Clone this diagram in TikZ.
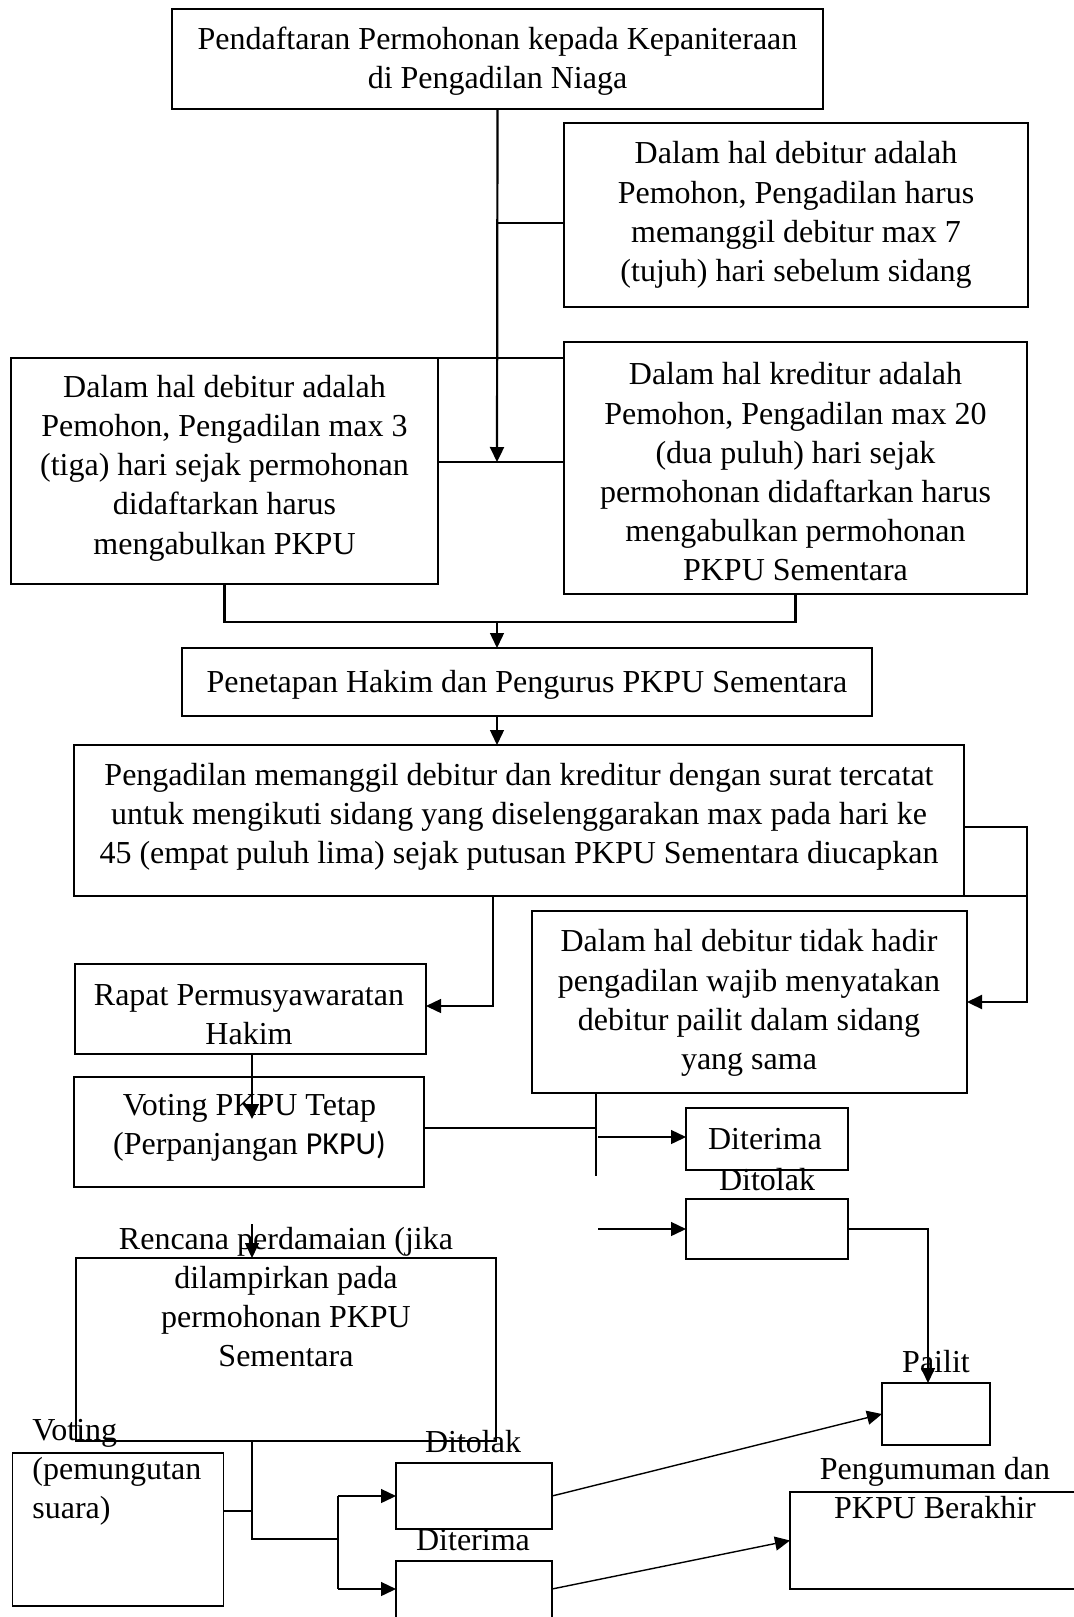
\documentclass[tikz,border=0pt]{standalone}
\usepackage{fontspec}
\setmainfont{Liberation Serif}
\newfontfamily\carl{Carlito}
\usetikzlibrary{arrows.meta,calc}
\begin{document}
\begin{tikzpicture}[x=0.5pt,y=-0.5pt,
  box/.style={draw,inner sep=0pt,outer sep=0pt,line width=0.6pt},
  tbox/.style={box,line width=1.1pt},
  txt/.style={inner sep=0pt,align=center,font=\fontsize{16}{19.6}\selectfont},
  conn/.style={line width=0.7pt},
  tconn/.style={line width=1.1pt},
  arr/.style={-{Triangle[length=7.5pt,width=7pt]}}]
\useasboundingbox (0,0) rectangle (1074,1617);
\clip (0,0) rectangle (1074,1617);
% boxes
\node[tbox,minimum width=325.5pt,minimum height=50pt] (top) at (497.5,59) {};
\node[box,minimum width=232pt,minimum height=92pt] (b2) at (796,215) {};
\node[tbox,minimum width=213.5pt,minimum height=113pt] (lb) at (224.5,471) {};
\node[tbox,minimum width=231.5pt,minimum height=126pt] (rb) at (795.5,468) {};
\node[box,minimum width=345pt,minimum height=34pt] (pen) at (527,682) {};
\node[tbox,minimum width=445pt,minimum height=75.5pt] (pg) at (519,820.5) {};
\node[box,minimum width=175.5pt,minimum height=45pt] (rap) at (250.5,1009) {};
\node[box,minimum width=217.5pt,minimum height=91pt] (dth) at (749.5,1002) {};
\node[tbox,minimum width=175pt,minimum height=55pt] (vot) at (249,1132) {};
\node[box,line width=0.8pt,minimum width=81pt,minimum height=31pt] (dt1) at (767,1139) {};
\node[box,line width=0.8pt,minimum width=81pt,minimum height=30pt] (dt2) at (767,1229) {};
\node[box,minimum width=210pt,minimum height=91.5pt] (ren) at (286,1349.5) {};
\node[box,minimum width=105.5pt,minimum height=76.5pt] (vs) at (118,1529.5) {};
\node[tbox,minimum width=78pt,minimum height=33pt] (dl) at (474,1496) {};
\node[box,minimum width=78pt,minimum height=40pt] (dr) at (474,1601) {};
\node[box,minimum width=54pt,minimum height=31pt] (pai) at (936,1414) {};
\node[tbox,minimum width=150pt,minimum height=48.5pt] (pgm) at (940,1540.5) {};
% texts
\node[txt] (ttop) at (497.5,61) {Pendaftaran Permohonan kepada Kepaniteraan\\di Pengadilan Niaga};
\node[txt] (tb2) at (796,215) {Dalam hal debitur adalah\\Pemohon, Pengadilan harus\\memanggil debitur max 7\\(tujuh) hari sebelum sidang};
\node[txt] (tlb) at (224.5,468) {Dalam hal debitur adalah\\Pemohon, Pengadilan max 3\\(tiga) hari sejak permohonan\\didaftarkan harus\\mengabulkan PKPU};
\node[txt] (trb) at (795.5,472) {Dalam hal kreditur adalah\\Pemohon, Pengadilan max 20\\(dua puluh) hari sejak\\permohonan didaftarkan harus\\mengabulkan permohonan\\PKPU Sementara};
\node[txt] (tpen) at (527,685) {Penetapan Hakim dan Pengurus PKPU Sementara};
\node[txt] (tpg) at (519,817) {Pengadilan memanggil debitur dan kreditur dengan surat tercatat\\untuk mengikuti sidang yang diselenggarakan max pada hari ke\\45 (empat puluh lima) sejak putusan PKPU Sementara diucapkan};
\node[txt] (trap) at (249,1015) {Rapat Permusyawaratan\\Hakim};
\node[txt] (tdth) at (749,1003) {Dalam hal debitur tidak hadir\\pengadilan wajib menyatakan\\debitur pailit dalam sidang\\yang sama};
\node[txt] (tvot) at (249.5,1128) {Voting PKPU Tetap\\(Perpanjangan {\carl PKPU)}};
\node[txt] (tdt1) at (765,1139) {Diterima};
\node[txt] (tdt2) at (767,1180) {Ditolak};
\node[txt] (tren) at (286,1297) {Rencana perdamaian (jika\\dilampirkan pada\\permohonan PKPU\\Sementara};
\node[txt,align=left,anchor=west] (tvs) at (32,1472) {Voting\\(pemungutan\\suara)};
\node[txt] (tdl) at (473,1442) {Ditolak};
\node[txt] (tdr) at (473,1540) {Diterima};
\node[txt] (tpai) at (936,1362) {Pailit};
\node[txt] (tpgm) at (935,1488) {Pengumuman dan\\PKPU Berakhir};
% helper coordinates
\coordinate (j0) at (497,223);
\coordinate (j1) at (497,462);
\coordinate (j2) at (497,622);
\coordinate (j3) at (1027,827);
\coordinate (j4) at (493,1006);
\coordinate (j5) at (252,1119);
\coordinate (j6) at (596,1128);
\coordinate (j7) at (596,1176);
\coordinate (a1) at (598,1137);
\coordinate (a2) at (598,1229);
\coordinate (j8) at (928,1229);
\coordinate (a3) at (252,1224);
\coordinate (j9) at (252,1511);
\coordinate (j10) at (338,1539);
\coordinate (j11) at (338,1589);
% connectors
\draw[tconn,arr] (top.south) -- (j1);
\draw[conn] (j0) -- (j0 -| b2.west);
\draw[tconn] (lb.east |- j1) -- (rb.west |- j1);
\draw[tconn] (lb.north east) -- (lb.north east -| rb.west);
\draw[tconn] (lb.south) -- (lb.south |- j2) -- (rb.south |- j2) -- (rb.south);
\draw[conn,arr] (j2) -- (j2 |- pen.north);
\draw[conn,arr] (j2 |- pen.south) -- (j2 |- pg.north);
\draw[tconn,arr] (pg.east |- j3) -- (j3) -- (j3 |- dth.east) -- (dth.east);
\draw[tconn] (pg.south east) -- (pg.south east -| j3);
\draw[conn,arr] (pg.south -| j4) -- (j4) -- (j4 -| rap.east);
\draw[conn,arr] (rap.south -| j5) -- (j5);
\draw[tconn] (vot.east |- j6) -- (j6);
\draw[tconn] (j6 |- dth.south) -- (j7);
\draw[conn,arr] (a1) -- (a1 -| dt1.west);
\draw[conn,arr] (a2) -- (a2 -| dt2.west);
\draw[conn,arr] (dt2.east) -- (j8) -- (j8 |- pai.north);
\draw[conn,arr] (a3) -- (a3 |- ren.north);
\draw[conn] (vs.east |- j9) -- (j9);
\draw[conn] (j9 |- ren.south) -- (j9 |- j10) -- (j10);
\draw[conn,arr] (j10 |- dl.west) -- (dl.west);
\draw[conn] (j10 |- dl.west) -- (j11);
\draw[conn,arr] (j11) -- (j11 -| dr.west);
\draw[conn,arr] (dl.east) -- (pai.west);
\draw[conn,arr] (dr.east |- j11) -- (pgm.west);
\end{tikzpicture}
\end{document}
